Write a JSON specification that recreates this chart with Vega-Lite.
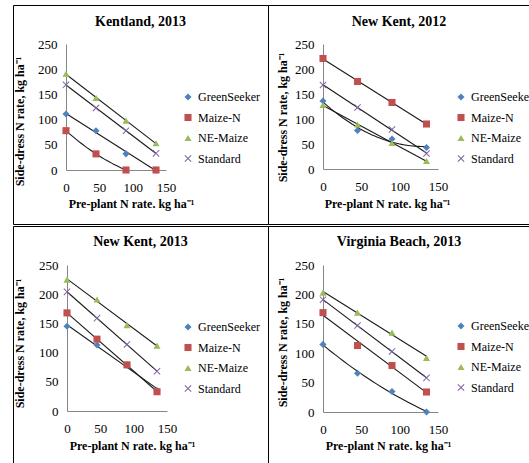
{
  "$schema": "https://vega.github.io/schema/vega-lite/v6.json",
  "background": "white",
  "padding": {"left": 12, "top": 4, "right": 0, "bottom": 0},
  "data": {"values": [
    {"panel": "Kentland, 2013", "series": "GreenSeeker", "x": 0, "y": 111},
    {"panel": "Kentland, 2013", "series": "GreenSeeker", "x": 45, "y": 78},
    {"panel": "Kentland, 2013", "series": "GreenSeeker", "x": 90, "y": 32},
    {"panel": "Kentland, 2013", "series": "GreenSeeker", "x": 135, "y": 0},
    {"panel": "Kentland, 2013", "series": "Maize-N", "x": 0, "y": 78},
    {"panel": "Kentland, 2013", "series": "Maize-N", "x": 45, "y": 32},
    {"panel": "Kentland, 2013", "series": "Maize-N", "x": 90, "y": 0},
    {"panel": "Kentland, 2013", "series": "Maize-N", "x": 135, "y": 0},
    {"panel": "Kentland, 2013", "series": "NE-Maize", "x": 0, "y": 191},
    {"panel": "Kentland, 2013", "series": "NE-Maize", "x": 45, "y": 143},
    {"panel": "Kentland, 2013", "series": "NE-Maize", "x": 90, "y": 98},
    {"panel": "Kentland, 2013", "series": "NE-Maize", "x": 135, "y": 53},
    {"panel": "Kentland, 2013", "series": "Standard", "x": 0, "y": 169},
    {"panel": "Kentland, 2013", "series": "Standard", "x": 45, "y": 123},
    {"panel": "Kentland, 2013", "series": "Standard", "x": 90, "y": 78},
    {"panel": "Kentland, 2013", "series": "Standard", "x": 135, "y": 33},
    {"panel": "New Kent, 2012", "series": "GreenSeeker", "x": 0, "y": 136},
    {"panel": "New Kent, 2012", "series": "GreenSeeker", "x": 45, "y": 77},
    {"panel": "New Kent, 2012", "series": "GreenSeeker", "x": 90, "y": 60},
    {"panel": "New Kent, 2012", "series": "GreenSeeker", "x": 135, "y": 43},
    {"panel": "New Kent, 2012", "series": "Maize-N", "x": 0, "y": 221},
    {"panel": "New Kent, 2012", "series": "Maize-N", "x": 45, "y": 175},
    {"panel": "New Kent, 2012", "series": "Maize-N", "x": 90, "y": 133},
    {"panel": "New Kent, 2012", "series": "Maize-N", "x": 135, "y": 90},
    {"panel": "New Kent, 2012", "series": "NE-Maize", "x": 0, "y": 128},
    {"panel": "New Kent, 2012", "series": "NE-Maize", "x": 45, "y": 89},
    {"panel": "New Kent, 2012", "series": "NE-Maize", "x": 90, "y": 52},
    {"panel": "New Kent, 2012", "series": "NE-Maize", "x": 135, "y": 16},
    {"panel": "New Kent, 2012", "series": "Standard", "x": 0, "y": 168},
    {"panel": "New Kent, 2012", "series": "Standard", "x": 45, "y": 123},
    {"panel": "New Kent, 2012", "series": "Standard", "x": 90, "y": 79},
    {"panel": "New Kent, 2012", "series": "Standard", "x": 135, "y": 31},
    {"panel": "New Kent, 2013", "series": "GreenSeeker", "x": 0, "y": 145},
    {"panel": "New Kent, 2013", "series": "GreenSeeker", "x": 45, "y": 113},
    {"panel": "New Kent, 2013", "series": "GreenSeeker", "x": 90, "y": 79},
    {"panel": "New Kent, 2013", "series": "GreenSeeker", "x": 135, "y": 35},
    {"panel": "New Kent, 2013", "series": "Maize-N", "x": 0, "y": 168},
    {"panel": "New Kent, 2013", "series": "Maize-N", "x": 45, "y": 123},
    {"panel": "New Kent, 2013", "series": "Maize-N", "x": 90, "y": 79},
    {"panel": "New Kent, 2013", "series": "Maize-N", "x": 135, "y": 33},
    {"panel": "New Kent, 2013", "series": "NE-Maize", "x": 0, "y": 225},
    {"panel": "New Kent, 2013", "series": "NE-Maize", "x": 45, "y": 191},
    {"panel": "New Kent, 2013", "series": "NE-Maize", "x": 90, "y": 147},
    {"panel": "New Kent, 2013", "series": "NE-Maize", "x": 135, "y": 112},
    {"panel": "New Kent, 2013", "series": "Standard", "x": 0, "y": 204},
    {"panel": "New Kent, 2013", "series": "Standard", "x": 45, "y": 159},
    {"panel": "New Kent, 2013", "series": "Standard", "x": 90, "y": 114},
    {"panel": "New Kent, 2013", "series": "Standard", "x": 135, "y": 68},
    {"panel": "Virginia Beach, 2013", "series": "GreenSeeker", "x": 0, "y": 115},
    {"panel": "Virginia Beach, 2013", "series": "GreenSeeker", "x": 45, "y": 66},
    {"panel": "Virginia Beach, 2013", "series": "GreenSeeker", "x": 90, "y": 35},
    {"panel": "Virginia Beach, 2013", "series": "GreenSeeker", "x": 135, "y": 0},
    {"panel": "Virginia Beach, 2013", "series": "Maize-N", "x": 0, "y": 169},
    {"panel": "Virginia Beach, 2013", "series": "Maize-N", "x": 45, "y": 113},
    {"panel": "Virginia Beach, 2013", "series": "Maize-N", "x": 90, "y": 79},
    {"panel": "Virginia Beach, 2013", "series": "Maize-N", "x": 135, "y": 34},
    {"panel": "Virginia Beach, 2013", "series": "NE-Maize", "x": 0, "y": 203},
    {"panel": "Virginia Beach, 2013", "series": "NE-Maize", "x": 45, "y": 169},
    {"panel": "Virginia Beach, 2013", "series": "NE-Maize", "x": 90, "y": 135},
    {"panel": "Virginia Beach, 2013", "series": "NE-Maize", "x": 135, "y": 92},
    {"panel": "Virginia Beach, 2013", "series": "Standard", "x": 0, "y": 191},
    {"panel": "Virginia Beach, 2013", "series": "Standard", "x": 45, "y": 147},
    {"panel": "Virginia Beach, 2013", "series": "Standard", "x": 90, "y": 103},
    {"panel": "Virginia Beach, 2013", "series": "Standard", "x": 135, "y": 58}
  ]},
  "spacing": 0,
  "resolve": {"scale": {"color": "independent", "shape": "independent"}, "legend": {"color": "independent", "shape": "independent"}},
  "vconcat": [
    {
      "spacing": 0,
      "bounds": "flush",
      "resolve": {"scale": {"color": "independent", "shape": "independent"}, "legend": {"color": "independent", "shape": "independent"}},
      "hconcat": [
        {
          "width": 255, "height": 219,
          "title": {"text": "Kentland, 2013", "offset": -24},
          "transform": [{"filter": "datum.panel === 'Kentland, 2013'"}],
          "encoding": {
            "x": {"field": "x", "type": "quantitative", "scale": {"domain": [0, 150], "range": [53, 153], "nice": false, "zero": false},
                  "axis": {"title": "Pre-plant N rate. kg ha⁻¹", "values": [0, 50, 100, 150], "offset": -54, "titleX": 118, "titleY": 33, "labelPadding": 11, "labelFont": "Liberation Serif"}},
            "y": {"field": "y", "type": "quantitative", "scale": {"domain": [0, 250], "range": [165, 39], "nice": false, "zero": false},
                  "axis": {"title": "Side-dress N rate, kg ha⁻¹", "values": [0, 50, 100, 150, 200, 250], "offset": -53, "titleX": -47, "titleY": 116, "labelFont": "Liberation Serif"}}
          },
          "layer": [
            {"transform": [{"filter": "datum.series !== 'Maize-N'"}, {"regression": "y", "on": "x", "groupby": ["series"]}],
             "mark": {"type": "line", "color": "#1a1a1a", "strokeWidth": 1.1}, "encoding": {"detail": {"field": "series"}}},
            {"transform": [{"filter": "datum.series === 'Maize-N' && datum.x <= 90"}, {"regression": "y", "on": "x", "groupby": ["series"], "method": "poly", "order": 2}],
             "mark": {"type": "line", "color": "#1a1a1a", "strokeWidth": 1.1}, "encoding": {"detail": {"field": "series"}}},
            {"mark": {"type": "point", "filled": true, "opacity": 1, "size": 50},
             "encoding": {
               "color": {"field": "series", "type": "nominal", "scale": {"domain": ["GreenSeeker", "Maize-N", "NE-Maize", "Standard"], "range": ["#4F81BD", "#C0504D", "#9BBB59", "#8064A2"]},
                         "legend": {"orient": "none", "legendX": 169, "legendY": 86, "labelFont": "Liberation Serif"}},
               "shape": {"field": "series", "type": "nominal", "scale": {"domain": ["GreenSeeker", "Maize-N", "NE-Maize", "Standard"], "range": ["diamond", "square", "triangle-up", "M-1,-0.8L-0.8,-1L0,-0.2L0.8,-1L1,-0.8L0.2,0L1,0.8L0.8,1L0,0.2L-0.8,1L-1,0.8L-0.2,0Z"]},
                         "legend": {"orient": "none", "legendX": 169, "legendY": 86, "labelFont": "Liberation Serif"}}
             }}
          ]
        },
        {
          "width": 262, "height": 219,
          "title": {"text": "New  Kent, 2012", "offset": -24},
          "transform": [{"filter": "datum.panel === 'New Kent, 2012'"}],
          "encoding": {
            "x": {"field": "x", "type": "quantitative", "scale": {"domain": [0, 150], "range": [55, 170], "nice": false, "zero": false},
                  "axis": {"title": "Pre-plant N rate. kg ha⁻¹", "values": [0, 50, 100, 150], "offset": -55, "titleX": 119, "titleY": 34, "labelPadding": 11, "labelFont": "Liberation Serif"}},
            "y": {"field": "y", "type": "quantitative", "scale": {"domain": [0, 250], "range": [164, 39], "nice": false, "zero": false},
                  "axis": {"title": "Side-dress N rate, kg ha⁻¹", "values": [0, 50, 100, 150, 200, 250], "offset": -55, "titleX": -41, "titleY": 112, "labelFont": "Liberation Serif"}}
          },
          "layer": [
            {"transform": [{"filter": "datum.series !== 'GreenSeeker'"}, {"regression": "y", "on": "x", "groupby": ["series"]}],
             "mark": {"type": "line", "color": "#1a1a1a", "strokeWidth": 1.1}, "encoding": {"detail": {"field": "series"}}},
            {"transform": [{"filter": "datum.series === 'GreenSeeker'"}, {"regression": "y", "on": "x", "groupby": ["series"], "method": "poly", "order": 2}],
             "mark": {"type": "line", "color": "#1a1a1a", "strokeWidth": 1.1}, "encoding": {"detail": {"field": "series"}}},
            {"mark": {"type": "point", "filled": true, "opacity": 1, "size": 50},
             "encoding": {
               "color": {"field": "series", "type": "nominal", "scale": {"domain": ["GreenSeeker", "Maize-N", "NE-Maize", "Standard"], "range": ["#4F81BD", "#C0504D", "#9BBB59", "#8064A2"]},
                         "legend": {"orient": "none", "legendX": 187, "legendY": 86, "labelFont": "Liberation Serif"}},
               "shape": {"field": "series", "type": "nominal", "scale": {"domain": ["GreenSeeker", "Maize-N", "NE-Maize", "Standard"], "range": ["diamond", "square", "triangle-up", "M-1,-0.8L-0.8,-1L0,-0.2L0.8,-1L1,-0.8L0.2,0L1,0.8L0.8,1L0,0.2L-0.8,1L-1,0.8L-0.2,0Z"]},
                         "legend": {"orient": "none", "legendX": 187, "legendY": 86, "labelFont": "Liberation Serif"}}
             }}
          ]
        }
      ]
    },
    {
      "spacing": 0,
      "bounds": "flush",
      "resolve": {"scale": {"color": "independent", "shape": "independent"}, "legend": {"color": "independent", "shape": "independent"}},
      "hconcat": [
        {
          "width": 255, "height": 239,
          "title": {"text": "New Kent, 2013", "offset": -23},
          "transform": [{"filter": "datum.panel === 'New Kent, 2013'"}],
          "encoding": {
            "x": {"field": "x", "type": "quantitative", "scale": {"domain": [0, 150], "range": [54, 154], "nice": false, "zero": false},
                  "axis": {"title": "Pre-plant N rate. kg ha⁻¹", "values": [0, 50, 100, 150], "offset": -54, "titleX": 119, "titleY": 34, "labelPadding": 11, "labelFont": "Liberation Serif"}},
            "y": {"field": "y", "type": "quantitative", "scale": {"domain": [0, 250], "range": [185, 39], "nice": false, "zero": false},
                  "axis": {"title": "Side-dress N rate, kg ha⁻¹", "values": [0, 50, 100, 150, 200, 250], "offset": -54, "titleX": -48, "titleY": 117, "labelFont": "Liberation Serif"}}
          },
          "layer": [
            {"transform": [{"regression": "y", "on": "x", "groupby": ["series"]}],
             "mark": {"type": "line", "color": "#1a1a1a", "strokeWidth": 1.1}, "encoding": {"detail": {"field": "series"}}},
            {"mark": {"type": "point", "filled": true, "opacity": 1, "size": 50},
             "encoding": {
               "color": {"field": "series", "type": "nominal", "scale": {"domain": ["GreenSeeker", "Maize-N", "NE-Maize", "Standard"], "range": ["#4F81BD", "#C0504D", "#9BBB59", "#8064A2"]},
                         "legend": {"orient": "none", "legendX": 169, "legendY": 95, "labelFont": "Liberation Serif"}},
               "shape": {"field": "series", "type": "nominal", "scale": {"domain": ["GreenSeeker", "Maize-N", "NE-Maize", "Standard"], "range": ["diamond", "square", "triangle-up", "M-1,-0.8L-0.8,-1L0,-0.2L0.8,-1L1,-0.8L0.2,0L1,0.8L0.8,1L0,0.2L-0.8,1L-1,0.8L-0.2,0Z"]},
                         "legend": {"orient": "none", "legendX": 169, "legendY": 95, "labelFont": "Liberation Serif"}}
             }}
          ]
        },
        {
          "width": 262, "height": 239,
          "title": {"text": "Virginia  Beach, 2013", "offset": -23},
          "transform": [{"filter": "datum.panel === 'Virginia Beach, 2013'"}],
          "encoding": {
            "x": {"field": "x", "type": "quantitative", "scale": {"domain": [0, 150], "range": [55, 170], "nice": false, "zero": false},
                  "axis": {"title": "Pre-plant N rate. kg ha⁻¹", "values": [0, 50, 100, 150], "offset": -53, "titleX": 120, "titleY": 33, "labelPadding": 11, "labelFont": "Liberation Serif"}},
            "y": {"field": "y", "type": "quantitative", "scale": {"domain": [0, 250], "range": [186, 39], "nice": false, "zero": false},
                  "axis": {"title": "Side-dress N rate, kg ha⁻¹", "values": [0, 50, 100, 150, 200, 250], "offset": -55, "titleX": -41, "titleY": 116, "labelFont": "Liberation Serif"}}
          },
          "layer": [
            {"transform": [{"filter": "datum.series !== 'GreenSeeker'"}, {"regression": "y", "on": "x", "groupby": ["series"]}],
             "mark": {"type": "line", "color": "#1a1a1a", "strokeWidth": 1.1}, "encoding": {"detail": {"field": "series"}}},
            {"transform": [{"filter": "datum.series === 'GreenSeeker'"}, {"regression": "y", "on": "x", "groupby": ["series"], "method": "poly", "order": 2}],
             "mark": {"type": "line", "color": "#1a1a1a", "strokeWidth": 1.1}, "encoding": {"detail": {"field": "series"}}},
            {"mark": {"type": "point", "filled": true, "opacity": 1, "size": 50},
             "encoding": {
               "color": {"field": "series", "type": "nominal", "scale": {"domain": ["GreenSeeker", "Maize-N", "NE-Maize", "Standard"], "range": ["#4F81BD", "#C0504D", "#9BBB59", "#8064A2"]},
                         "legend": {"orient": "none", "legendX": 187, "legendY": 94, "labelFont": "Liberation Serif"}},
               "shape": {"field": "series", "type": "nominal", "scale": {"domain": ["GreenSeeker", "Maize-N", "NE-Maize", "Standard"], "range": ["diamond", "square", "triangle-up", "M-1,-0.8L-0.8,-1L0,-0.2L0.8,-1L1,-0.8L0.2,0L1,0.8L0.8,1L0,0.2L-0.8,1L-1,0.8L-0.2,0Z"]},
                         "legend": {"orient": "none", "legendX": 187, "legendY": 94, "labelFont": "Liberation Serif"}}
             }}
          ]
        }
      ]
    }
  ],
  "config": {
    "font": "Liberation Serif",
    "view": {"stroke": "black", "strokeWidth": 1},
    "axis": {"grid": false, "ticks": false, "labelFlush": false, "domainColor": "#868686", "labelFont": "Liberation Serif", "labelFontSize": 13, "labelColor": "black", "labelPadding": 9,
             "titleFont": "Liberation Serif", "titleFontSize": 12, "titleFontWeight": "bold", "titleColor": "black", "titleBaseline": "middle", "titleAlign": "center"},
    "legend": {"title": null, "labelFont": "Liberation Serif", "labelFontSize": 12, "labelColor": "black", "symbolSize": 50, "rowPadding": 8.5, "labelOffset": 4, "padding": 0},
    "title": {"font": "Liberation Serif", "fontSize": 14, "fontWeight": "bold", "color": "black", "anchor": "middle", "frame": "group"}
  }
}
